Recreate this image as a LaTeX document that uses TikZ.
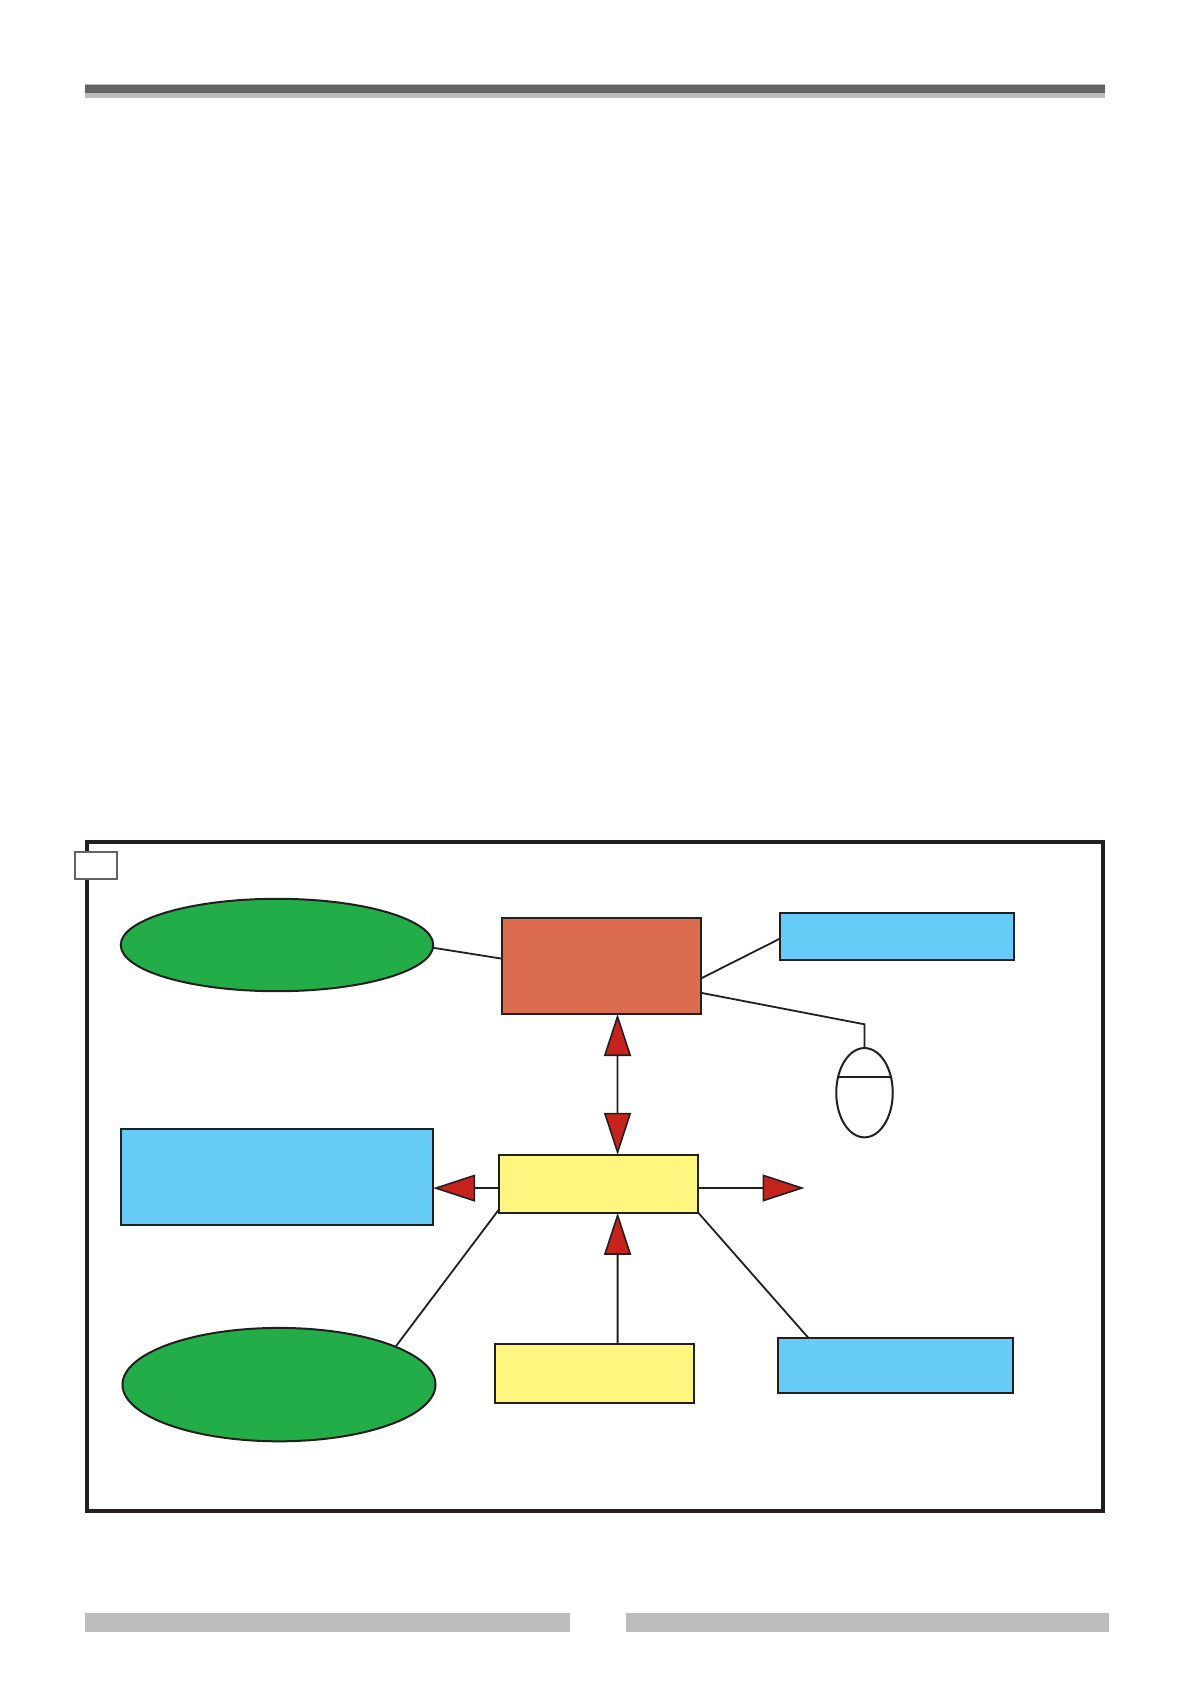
\documentclass[tikz,border=0pt]{standalone}
\usetikzlibrary{arrows.meta, shapes.geometric}

\begin{document}
\begin{tikzpicture}[
  x=1pt, y=-1pt,
  box/.style={draw=lineblack, line width=2pt, inner sep=0pt, outer sep=0pt},
  sky/.style={box, fill=skyblue},
  lemon/.style={box, fill=lemonyellow},
  oval/.style={box, ellipse, fill=leafgreen},
  band/.style={fill=bandgray, draw=none, inner sep=0pt, outer sep=0pt},
  link/.style={draw=lineblack, line width=1.8pt},
  >={Triangle[length=42pt, width=27pt, fill=tipred, line width=1.6pt]}
]
\definecolor{lineblack}{HTML}{231F20}
\definecolor{skyblue}{HTML}{66CBF6}
\definecolor{lemonyellow}{HTML}{FFF680}
\definecolor{leafgreen}{HTML}{22AD48}
\definecolor{brick}{HTML}{DC6C50}
\definecolor{tipred}{HTML}{C5231C}
\definecolor{bandgray}{HTML}{BDBDBD}
\definecolor{banddark}{HTML}{636363}

\useasboundingbox (0,0) rectangle (1190,1684);

%% ---------- page bands ----------
\node[band, minimum width=1020pt, minimum height=13.5pt] (headlight) at (595,91.2) {};
\node[band, fill=banddark, minimum width=1020pt, minimum height=8.5pt] (headdark) at (595,89.2) {};
\node[band, minimum width=485pt, minimum height=19.5pt] (footleft) at (327.5,1622.5) {};
\node[band, minimum width=483.5pt, minimum height=19.5pt] (footright) at (867.5,1622.5) {};

%% ---------- frame ----------
\node[box, line width=4pt, minimum width=1016pt, minimum height=669pt] (frame) at (594.8,1176.2) {};
\node[box, draw=banddark, fill=white, minimum width=41.5pt, minimum height=27pt] (tag) at (95.8,865.5) {};

%% ---------- upper row ----------
\node[oval, minimum width=312.5pt, minimum height=92.4pt] (topoval) at (277,945) {};
\node[box, fill=brick, minimum width=199.4pt, minimum height=96.3pt] (core) at (601.5,965.85) {};
\node[sky, minimum width=234.5pt, minimum height=47.3pt] (topsky) at (897,936.3) {};

%% ---------- mouse ----------
\node[box, ellipse, fill=white, minimum width=56.5pt, minimum height=89.3pt] (mouse) at (864.5,1092.7) {};
\coordinate (mousebend) at (864.5,1024.3);
\draw[link] ([xshift=-26.2pt, yshift=15.7pt]mouse.center) -- ([xshift=26.5pt, yshift=15.7pt]mouse.center);
\draw[link] ([yshift=-27pt]core.east) -- (mousebend) -- (mouse.north);

%% ---------- middle row ----------
\node[sky, minimum width=312.4pt, minimum height=96pt] (leftsky) at (277,1177) {};
\node[lemon, minimum width=199.5pt, minimum height=58pt] (hub) at (598.6,1183.8) {};
\coordinate (rightend) at (804.5,1188);

%% ---------- lower row ----------
\node[oval, minimum width=313pt, minimum height=113.4pt] (lowoval) at (279,1384.6) {};
\node[lemon, minimum width=199.2pt, minimum height=59.3pt] (lowlemon) at (594.4,1373.4) {};
\node[sky, minimum width=235.4pt, minimum height=55.2pt] (lowsky) at (895.3,1365.4) {};

%% ---------- connectors ----------
\draw[link] (topoval.-1) -- ([yshift=7.2pt]core.west);
\draw[link] ([yshift=-12.5pt]core.east) -- ([yshift=-2.4pt]topsky.west);
\draw[link, <->] ([xshift=16pt]core.south) -- ([xshift=19pt]hub.north);
\draw[link, ->] ([yshift=-4.3pt]hub.west) -- ([yshift=-11.1pt]leftsky.east);
\draw[link, ->] ([yshift=-4.2pt]hub.east) -- (rightend);
\draw[link, ->] ([xshift=23.2pt]lowlemon.north) -- ([xshift=19pt]hub.south);
\draw[link] ([yshift=-25.8pt]hub.west) -- (lowoval.18.8);
\draw[link] (hub.south east) -- ([xshift=-87pt]lowsky.north);
\end{tikzpicture}
\end{document}
